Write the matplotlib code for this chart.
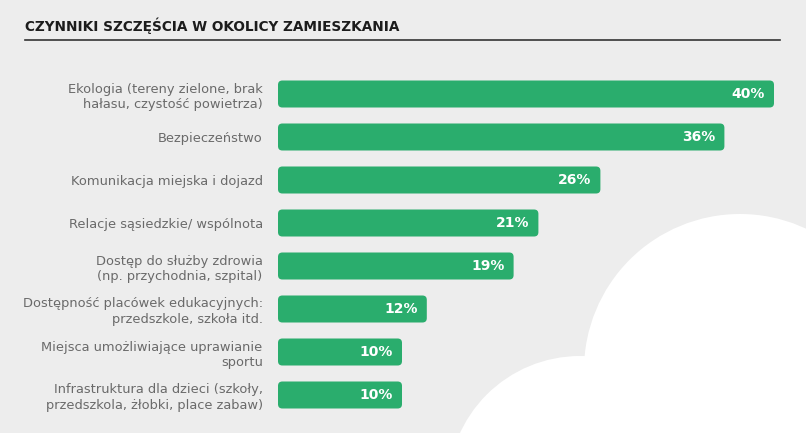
import matplotlib

matplotlib.use("Agg")

import matplotlib.pyplot as plt
from matplotlib.patches import Circle, FancyBboxPatch, Rectangle

plt.rcParams["font.family"] = ["DejaVu Sans"]

categories = [
    "Ekologia (tereny zielone, brak\nhałasu, czystość powietrza)",
    "Bezpieczeństwo",
    "Komunikacja miejska i dojazd",
    "Relacje sąsiedzkie/ wspólnota",
    "Dostęp do służby zdrowia\n(np. przychodnia, szpital)",
    "Dostępność placówek edukacyjnych:\nprzedszkole, szkoła itd.",
    "Miejsca umożliwiające uprawianie\nsportu",
    "Infrastruktura dla dzieci (szkoły,\nprzedszkola, żłobki, place zabaw)",
]
values = [40, 36, 26, 21, 19, 12, 10, 10]
title = "CZYNNIKI SZCZĘŚCIA W OKOLICY ZAMIESZKANIA"

BG = "#ededed"
GREEN = "#2aad6d"
W, H = 806, 433

fig = plt.figure(figsize=(W / 100, H / 100), dpi=100)
fig.patch.set_facecolor(BG)

# background layer in pixel coordinates: title, rule, cloud
bg = fig.add_axes([0, 0, 1, 1])
bg.set_xlim(0, W)
bg.set_ylim(H, 0)
bg.axis("off")
bg.add_patch(Circle((740, 370), 156, color="white", lw=0))
bg.add_patch(Circle((580, 488), 132, color="white", lw=0))
bg.add_patch(Rectangle((580, 370), 240, 80, color="white", lw=0))
bg.text(25, 26, title, fontsize=9.85, fontweight="bold", color="#1c1c1c",
        va="center", ha="left")
bg.plot([25, 780], [39.5, 39.5], color="#333333", lw=1.2)

# bar axes
px_per_unit = 12.4
row_h = 43
x0, x1 = 278, 790
top = 94 - row_h / 2
ax = fig.add_axes([x0 / W, 1 - (top + row_h * len(values)) / H,
                   (x1 - x0) / W, row_h * len(values) / H])
ax.patch.set_alpha(0)
ax.set_xlim(0, (x1 - x0) / px_per_unit)
ax.set_ylim(len(values) - 0.5, -0.5)

bar_h = 27 / row_h
aspect = (1 / row_h) / (1 / px_per_unit)
for i, v in enumerate(values):
    ax.add_patch(FancyBboxPatch((0, i - bar_h / 2), v, bar_h,
                                boxstyle="round,pad=0,rounding_size=0.35",
                                mutation_aspect=aspect, fc=GREEN, ec="none"))
    ax.annotate(f"{v}%", (v, i), xytext=(-6.5, 0), textcoords="offset points",
                ha="right", va="center", color="white", fontsize=10,
                fontweight="bold")

ax.set_yticks(range(len(values)))
ax.set_yticklabels(categories, fontsize=9.4, color="#6a6a6a", linespacing=1.25)
ax.tick_params(axis="y", length=0, pad=11)
ax.set_xticks([])
for s in ax.spines.values():
    s.set_visible(False)

fig.savefig("out.png", dpi=100, facecolor=BG)
